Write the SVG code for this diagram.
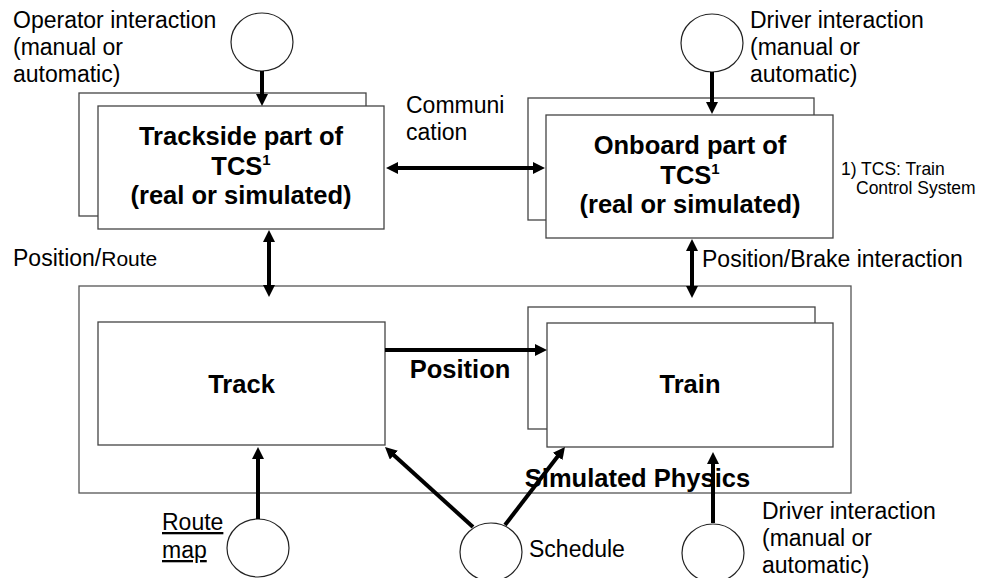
<svg xmlns="http://www.w3.org/2000/svg" width="984" height="578" viewBox="0 0 984 578">
  <style>
    .box { fill: #ffffff; stroke: #444444; stroke-width: 1.3; }
    .frame { fill: none; stroke: #555555; stroke-width: 1.3; }
    .actor { fill: #ffffff; stroke: #222222; stroke-width: 1.2; }
    .arrow { fill: none; stroke: #000000; stroke-width: 4; }
    .lbl { font-family: "Liberation Sans", Arial, sans-serif; font-size: 23px; fill: #000000; }
    .bold { font-family: "Liberation Sans", Arial, sans-serif; font-size: 25.5px; font-weight: bold; fill: #000000; text-anchor: middle; }
    .note { font-family: "Liberation Sans", Arial, sans-serif; font-size: 17.5px; fill: #000000; }
  </style>
  <defs>
    <marker id="head" viewBox="0 0 12 12" markerUnits="userSpaceOnUse" markerWidth="12" markerHeight="12" refX="4" refY="6" orient="auto-start-reverse">
      <path d="M0,0 L12,6 L0,12 z" fill="#000000"/>
    </marker>
  </defs>

  <rect width="984" height="578" fill="#ffffff"/>

  <!-- simulated physics frame -->
  <g id="physics">
    <rect class="frame" x="79" y="286" width="772" height="207"/>
  </g>

  <!-- trackside part of TCS (stacked) -->
  <g id="trackside">
    <rect class="box" x="79" y="93" width="287" height="123"/>
    <rect class="box" x="98" y="106" width="286" height="123"/>
    <text class="bold" x="241" y="145">Trackside part of</text>
    <text class="bold" x="241" y="175">TCS<tspan font-size="15" dy="-10">1</tspan></text>
    <text class="bold" x="241" y="204">(real or simulated)</text>
  </g>

  <!-- onboard part of TCS (stacked) -->
  <g id="onboard">
    <rect class="box" x="528" y="98" width="286" height="122"/>
    <rect class="box" x="546" y="115" width="287" height="123"/>
    <text class="bold" x="690" y="154">Onboard part of</text>
    <text class="bold" x="690" y="184">TCS<tspan font-size="15" dy="-10">1</tspan></text>
    <text class="bold" x="690" y="213">(real or simulated)</text>
  </g>

  <!-- track -->
  <g id="track">
    <rect class="box" x="98" y="322" width="287" height="123"/>
    <text class="bold" x="241.5" y="393" font-size="26">Track</text>
  </g>

  <!-- train (stacked) -->
  <g id="train">
    <rect class="box" x="528" y="307" width="287" height="122"/>
    <rect class="box" x="547" y="323" width="286" height="124"/>
    <text class="bold" x="690" y="393" font-size="26">Train</text>
  </g>

  <!-- actors -->
  <g id="operator">
    <ellipse class="actor" cx="262" cy="42" rx="31" ry="29"/>
    <text class="lbl" x="13" y="28">Operator interaction</text>
    <text class="lbl" x="13" y="55">(manual or</text>
    <text class="lbl" x="13" y="82">automatic)</text>
  </g>
  <g id="driver-top">
    <ellipse class="actor" cx="712" cy="43" rx="31" ry="29"/>
    <text class="lbl" x="750" y="28">Driver interaction</text>
    <text class="lbl" x="750" y="55">(manual or</text>
    <text class="lbl" x="750" y="82">automatic)</text>
  </g>
  <g id="route-map">
    <ellipse class="actor" cx="258" cy="548" rx="31" ry="29"/>
    <text class="lbl" x="162" y="530" text-decoration="underline">Route</text>
    <text class="lbl" x="162" y="558" text-decoration="underline">map</text>
  </g>
  <g id="schedule">
    <ellipse class="actor" cx="491" cy="552" rx="31" ry="29"/>
    <text class="lbl" x="529" y="557">Schedule</text>
  </g>
  <g id="driver-bottom">
    <ellipse class="actor" cx="713" cy="553" rx="31" ry="29"/>
    <text class="lbl" x="762" y="519">Driver interaction</text>
    <text class="lbl" x="762" y="546">(manual or</text>
    <text class="lbl" x="762" y="573">automatic)</text>
  </g>

  <!-- footnote -->
  <g id="footnote">
    <text class="note" x="841" y="175">1) TCS: Train</text>
    <text class="note" x="856" y="194">Control System</text>
  </g>

  <!-- connectors -->
  <g id="connectors">
    <line class="arrow" x1="262" y1="71" x2="262" y2="98" marker-end="url(#head)"/>
    <line class="arrow" x1="712" y1="72" x2="712" y2="106" marker-end="url(#head)"/>
    <line class="arrow" x1="394" y1="168" x2="537" y2="168" marker-start="url(#head)" marker-end="url(#head)"/>
    <line class="arrow" x1="269" y1="238" x2="269" y2="289" marker-start="url(#head)" marker-end="url(#head)"/>
    <line class="arrow" x1="692" y1="247" x2="692" y2="290" marker-start="url(#head)" marker-end="url(#head)"/>
    <line class="arrow" x1="385" y1="350" x2="539" y2="350" marker-end="url(#head)"/>
    <line class="arrow" x1="258" y1="519" x2="258" y2="455" marker-end="url(#head)"/>
    <line class="arrow" x1="473" y1="527" x2="390.9" y2="452.4" marker-end="url(#head)"/>
    <line class="arrow" x1="505" y1="525" x2="560.1" y2="453.3" marker-end="url(#head)"/>
    <line class="arrow" x1="713" y1="523" x2="713" y2="460" marker-end="url(#head)"/>
  </g>

  <!-- connector labels -->
  <g id="labels">
    <text class="lbl" x="406" y="113">Communi</text>
    <text class="lbl" x="406" y="140">cation</text>
    <text class="lbl" x="13" y="266" font-size="25">Position/<tspan font-size="21">Route</tspan></text>
    <text class="lbl" x="702" y="267" font-size="24">Position/Brake interaction</text>
    <text class="bold" x="460" y="378" font-size="24.5">Position</text>
    <text class="bold" x="637.5" y="487" font-size="26">Simulated Physics</text>
  </g>
</svg>
